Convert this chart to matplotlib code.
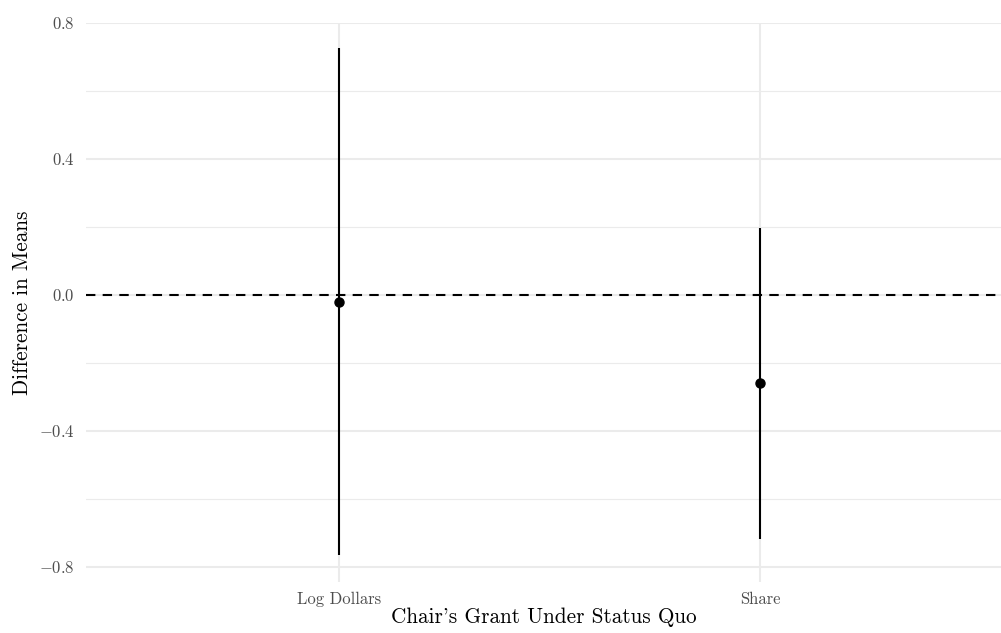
'''
Difference in means by chair's grant measure
'''

import matplotlib.pyplot as plt

# Data
categories = ["Log Dollars", "Share"]
estimates = [-0.02, -0.26]
lower = [-0.765, -0.718]
upper = [0.725, 0.197]
y_ticks = [-0.8, -0.4, 0.0, 0.4, 0.8]
y_tick_labels = ["$-0.8$", "$-0.4$", "$0.0$", "$0.4$", "$0.8$"]

plt.rcParams['font.family'] = ['cmr10', 'DejaVu Serif']
plt.rcParams['mathtext.fontset'] = 'cm'
plt.rcParams['axes.formatter.use_mathtext'] = True

W, H = 1001, 633
fig = plt.figure(figsize=(W / 100, H / 100), dpi=100)
# panel in pixels: left 86, right 1001, top 23, bottom 582
ax = fig.add_axes([86 / W, 1 - 582 / H, (1001 - 86) / W, (582 - 23) / H])

x = list(range(1, len(categories) + 1))

grid_col = '#EBEBEB'
for yy in [-0.6, -0.2, 0.2, 0.6]:
    ax.axhline(yy, color=grid_col, lw=0.8, zorder=0)
for yy in y_ticks:
    ax.axhline(yy, color=grid_col, lw=1.5, zorder=0)
for xx in x:
    ax.axvline(xx, color=grid_col, lw=1.5, zorder=0)

ax.axhline(0, color='black', lw=1.5, dashes=(4.5, 3.5), zorder=2)

ax.vlines(x, lower, upper, color='black', lw=1.5, zorder=3)
ax.plot(x, estimates, 'o', color='black', ms=6.5, zorder=4)

ax.set_xlim(0.4, 2.571)
ax.set_ylim(-0.845, 0.8)
ax.set_xticks(x)
ax.set_xticklabels(categories)
ax.set_yticks(y_ticks)
ax.set_yticklabels(y_tick_labels)
ax.tick_params(length=0, labelsize=12, labelcolor='#4D4D4D')
ax.tick_params(axis='x', pad=7)
ax.tick_params(axis='y', pad=8)
for s in ax.spines.values():
    s.set_visible(False)

ax.set_xlabel("Chair's Grant Under Status Quo", fontsize=15.3, labelpad=0)
ax.set_ylabel("Difference in Means", fontsize=15.3, labelpad=5)

fig.savefig('out.png', dpi=100)
